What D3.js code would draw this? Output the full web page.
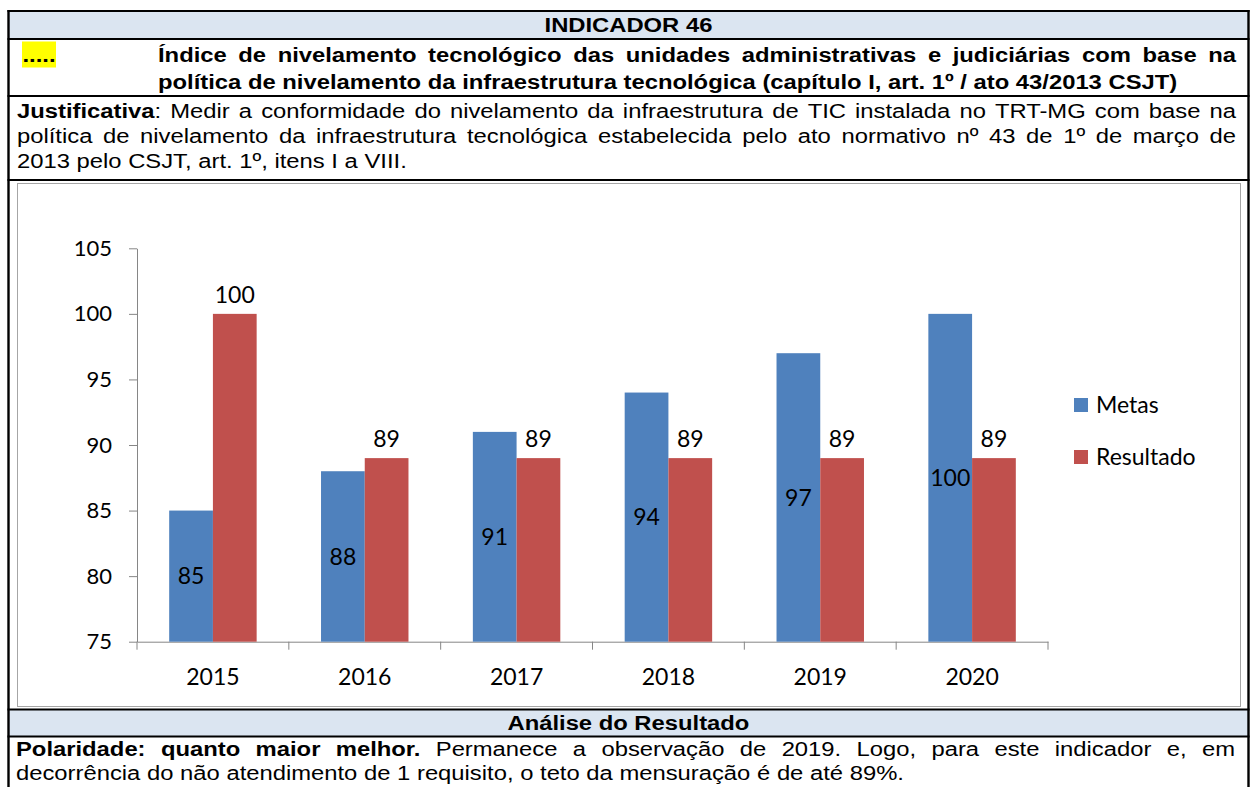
<!DOCTYPE html>
<html><head><meta charset="utf-8">
<script src="https://cdn.jsdelivr.net/npm/d3@7"></script>
<style>
html,body{margin:0;padding:0;background:#fff;overflow:hidden}
svg{display:block}
</style></head><body>
<script>
// ---- data ----
const years = ["2015","2016","2017","2018","2019","2020"];
const metas = [85, 88, 91, 94, 97, 100];
const resultado = [100, 89, 89, 89, 89, 89];
const seriesNames = ["Metas", "Resultado"];
const yTicks = [75, 80, 85, 90, 95, 100, 105];

const headerTitle = "INDICADOR 46";
const indicatorLines = [
  {justify:true, parts:[{t:"Índice de nivelamento tecnológico das unidades administrativas e judiciárias com base na", b:true}]},
  {justify:false, parts:[{t:"política de nivelamento da infraestrutura tecnológica (capítulo I, art. 1º / ato 43/2013 CSJT)", b:true}]}
];
const justLines = [
  {justify:true, parts:[{t:"Justificativa", b:true},{t:": Medir a conformidade do nivelamento da infraestrutura de TIC instalada no TRT-MG com base na", b:false}]},
  {justify:true, parts:[{t:"política de nivelamento da infraestrutura tecnológica estabelecida pelo ato normativo nº 43 de 1º de março de", b:false}]},
  {justify:false, parts:[{t:"2013 pelo CSJT, art. 1º, itens I a VIII.", b:false}]}
];
const analiseTitle = "Análise do Resultado";
const analiseLines = [
  {justify:true, parts:[{t:"Polaridade: quanto maior melhor.", b:true},{t:" Permanece a observação de 2019. Logo, para este indicador e, em", b:false}]},
  {justify:false, parts:[{t:"decorrência do não atendimento de 1 requisito, o teto da mensuração é de até 89%.", b:false}]}
];

// ---- setup ----
const W = 1251, H = 787;
const TXT = "'Liberation Sans', Arial, sans-serif";
const CH = "Lato, 'Open Sans', sans-serif";
const FS = 20, SX = 1.19;
const svg = d3.select("body").append("svg").attr("width", W).attr("height", H);

const L = 8.5, R = 1248.5;

// bands
svg.append("rect").attr("x", L).attr("y", 11).attr("width", R - L).attr("height", 28).attr("fill", "#dbe5f1");
svg.append("rect").attr("x", L).attr("y", 709.5).attr("width", R - L).attr("height", 27).attr("fill", "#dbe5f1");

// highlight
svg.append("rect").attr("x", 22).attr("y", 41.5).attr("width", 34).attr("height", 26).attr("fill", "#ffff00");

// chart frame
svg.append("rect").attr("x", 17.5).attr("y", 183.5).attr("width", 1223).attr("height", 523)
  .attr("fill", "none").attr("stroke", "#a6a6a6").attr("stroke-width", 1);

// table borders
const hLines = [11, 39, 96, 180, 709.5, 736.5];
hLines.forEach(yy => svg.append("line").attr("x1", L - 1).attr("x2", R + 1).attr("y1", yy).attr("y2", yy)
  .attr("stroke", "#000").attr("stroke-width", 2.2));
[L, R].forEach(xx => svg.append("line").attr("x1", xx).attr("x2", xx).attr("y1", 10).attr("y2", H)
  .attr("stroke", "#000").attr("stroke-width", 2.4));

// stretched text helper
function stext(x, y, str, bold, anchor) {
  const t = svg.append("text").attr("font-family", TXT).attr("font-size", FS)
    .attr("font-weight", bold ? "bold" : "normal").text(str);
  const w = t.node().getComputedTextLength() * SX;
  const xx = anchor === "middle" ? x - w / 2 : x;
  t.attr("transform", `translate(${xx},${y}) scale(${SX},1)`);
  return t;
}
stext((L + R) / 2, 32, headerTitle, true, "middle");
stext((L + R) / 2, 730, analiseTitle, true, "middle");
stext(22.5, 62, ".....", true, "start");

function para(lines, xStart, xEnd, baselines) {
  lines.forEach((ln, i) => {
    const words = []; let cur = [];
    ln.parts.forEach(p => {
      p.t.split(" ").forEach((tk, j) => {
        if (j > 0) { if (cur.length) words.push(cur); cur = []; }
        if (tk.length) cur.push({t: tk, b: p.b});
      });
    });
    if (cur.length) words.push(cur);
    const g = svg.append("g");
    const nodes = words.map(w => {
      const t = g.append("text").attr("font-family", TXT).attr("font-size", FS);
      w.forEach(p => t.append("tspan").attr("font-weight", p.b ? "bold" : "normal").text(p.t));
      return t;
    });
    const widths = nodes.map(n => n.node().getComputedTextLength() * SX);
    const total = d3.sum(widths);
    const spaceW = FS * 0.278 * SX;
    const gap = ln.justify ? Math.max(spaceW * 0.8, (xEnd - xStart - total) / (words.length - 1)) : spaceW;
    let x = xStart;
    nodes.forEach((n, k) => {
      n.attr("transform", `translate(${x},${baselines[i]}) scale(${SX},1)`);
      x += widths[k] + gap;
    });
  });
}
para(indicatorLines, 158, 1236, [62, 89]);
para(justLines, 17, 1236, [118, 143, 168]);
para(analiseLines, 16, 1235, [756, 780]);

// ---- chart ----
const x0 = d3.scaleBand().domain(years).range([137, 1048]);
const bw = x0.bandwidth();
const x1 = d3.scaleBand().domain(seriesNames).range([bw * 0.212, bw * 0.788]);
const y = d3.scaleLinear().domain([75, 105]).range([641.7, 248.3]);
const color = d3.scaleOrdinal().domain(seriesNames).range(["#4f81bd", "#c0504d"]);

const plot = svg.append("g");
const rows = years.map((yr, i) => ({year: yr, Metas: metas[i], Resultado: resultado[i]}));

// y axis
const yAxis = plot.append("g").attr("transform", "translate(137,0)")
  .call(d3.axisLeft(y).tickValues(yTicks).tickSize(8).tickSizeOuter(0).tickPadding(17));
yAxis.select(".domain").attr("stroke", "#868686");
yAxis.selectAll(".tick line").attr("stroke", "#868686");
yAxis.selectAll("text").attr("font-family", CH).attr("font-size", 22).attr("fill", "#000");

// x axis
const xAxis = plot.append("g").attr("transform", `translate(0,${y(75)})`)
  .call(d3.axisBottom(x0).tickSize(0).tickSizeOuter(0).tickPadding(27));
xAxis.select(".domain").attr("stroke", "#868686");
xAxis.selectAll("text").attr("font-family", CH).attr("font-size", 23).attr("fill", "#000");
const bounds = years.map(d => x0(d)).concat([x0.range()[1]]);
plot.selectAll("line.bt").data(bounds).join("line").attr("class", "bt")
  .attr("x1", d => d).attr("x2", d => d).attr("y1", y(75)).attr("y2", y(75) + 8)
  .attr("stroke", "#868686");

// bars
const grp = plot.selectAll("g.grp").data(rows).join("g").attr("class", "grp")
  .attr("transform", d => `translate(${x0(d.year)},0)`);
grp.selectAll("rect").data(d => seriesNames.map(s => ({s, v: d[s]}))).join("rect")
  .attr("x", d => x1(d.s)).attr("width", x1.bandwidth())
  .attr("y", d => y(d.v)).attr("height", d => y(75) - y(d.v))
  .attr("fill", d => color(d.s));

// labels
grp.append("text").attr("text-anchor", "middle")
  .attr("x", x1("Metas") + x1.bandwidth() / 2)
  .attr("y", d => (y(d.Metas) + y(75)) / 2).attr("dy", "0.35em")
  .attr("font-family", CH).attr("font-size", 23).attr("fill", "#000")
  .text(d => d.Metas);
grp.append("text").attr("text-anchor", "middle")
  .attr("x", x1("Resultado") + x1.bandwidth() / 2)
  .attr("y", d => y(d.Resultado) - 11)
  .attr("font-family", CH).attr("font-size", 23).attr("fill", "#000")
  .text(d => d.Resultado);

// legend
const leg = plot.selectAll("g.leg").data(seriesNames).join("g").attr("class", "leg")
  .attr("transform", (d, i) => `translate(1074,${398 + i * 52})`);
leg.append("rect").attr("width", 14).attr("height", 14).attr("fill", d => color(d));
leg.append("text").attr("x", 22).attr("y", 7).attr("dy", "0.35em")
  .attr("font-family", CH).attr("font-size", 23).attr("fill", "#000").text(d => d);
</script>
</body></html>
